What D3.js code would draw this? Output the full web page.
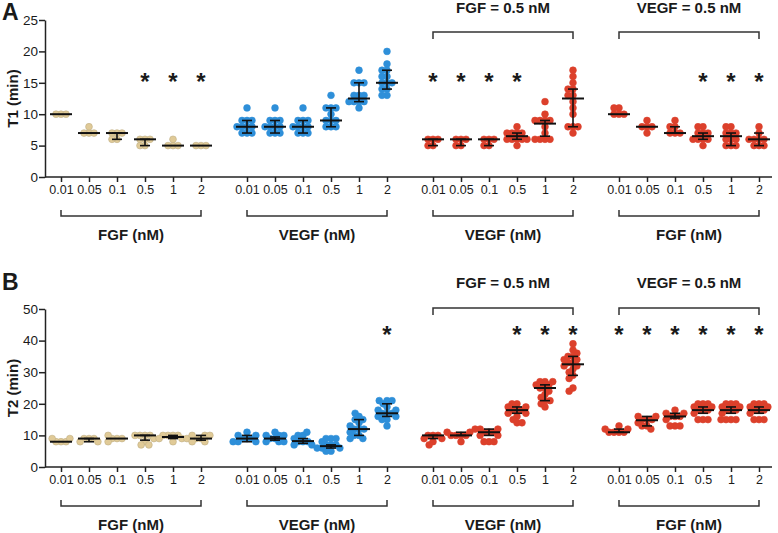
<!DOCTYPE html>
<html>
<head>
<meta charset="utf-8">
<script src="https://cdn.jsdelivr.net/npm/d3@7"></script>
<style>
  body { margin: 0; background: #fff; }
  text { font-family: "Liberation Sans", Arial, sans-serif; fill: #1a1a1a; }
</style>
</head>
<body>
<script>
// categories
var concs = ["0.01", "0.05", "0.1", "0.5", "1", "2"];
var groupLabels = ["FGF (nM)", "VEGF (nM)", "VEGF (nM)", "FGF (nM)"];
var groupKind = ["fgf", "vegf", "both", "both"];
var topLabels = [null, null, "FGF = 0.5 nM", "VEGF = 0.5 nM"];

// T1 (min) - individual points, 24 conditions (4 groups x 6 conc)
var t1Points = [
  [10, 10, 10], [7, 7, 7, 8], [7, 7, 7, 6, 6], [6, 6, 6, 5, 5], [5, 5, 5, 6], [5, 5, 5],
  [11, 9, 9, 9, 8, 8, 8, 8, 7, 7, 7], [11, 9, 9, 9, 8, 8, 8, 8, 7, 7, 7], [11, 9, 9, 9, 8, 8, 8, 8, 7, 7, 7],
  [13, 11, 11, 11, 10, 9, 9, 9, 8, 8, 8], [17, 15, 15, 15, 13, 13, 13, 12, 12, 12, 11, 12],
  [20, 18, 17, 17, 16, 16, 15, 15, 15, 14, 14, 13, 13],
  [6, 6, 6, 5, 5], [6, 6, 6, 5, 5], [6, 6, 6, 5, 5],
  [8, 7, 7, 7, 7, 6, 6, 6, 6, 6, 5], [12, 10, 9, 9, 9, 9, 8, 7, 6, 6, 6, 6],
  [17, 16, 15, 14, 14, 13, 13, 12, 11, 10, 8, 8, 8, 7],
  [11, 11, 10, 10, 10], [9, 8, 8, 8, 7], [9, 8, 8, 7, 7, 7],
  [8, 7, 7, 7, 6, 6, 6, 6, 5, 8], [8, 8, 7, 7, 6, 6, 6, 5, 5, 5, 7], [8, 7, 6, 6, 6, 6, 5, 5, 5]
];
var t1Median = [10, 7, 7, 6, 5, 5, 8, 8, 8, 9, 12.5, 15, 6, 6, 6, 6.5, 8.5, 12.5, 10, 8, 7, 6.5, 6.5, 6];
var t1Low    = [10, 7, 6, 5, 5, 5, 7, 7, 7, 8, 12, 14, 5, 5, 5, 6, 6.5, 8, 10, 8, 7, 6, 5, 5];
var t1High   = [10, 7, 7, 6, 5, 5, 9, 9, 9, 11, 15, 17, 6, 6, 6, 7, 9, 14, 10, 8, 8, 7, 7, 7];
var t1Stars = [3, 4, 5, 12, 13, 14, 15, 21, 22, 23];

// T2 (min)
var t2Points = [
  [9, 9, 8, 8, 8], [9, 9, 9, 8, 8], [10, 9, 9, 9, 8], [10, 10, 10, 10, 9, 8, 7, 7], [10, 10, 10, 10, 9, 9, 9, 8], [10, 10, 10, 9, 9, 8, 8],
  [11, 10, 10, 9, 9, 9, 8, 8, 8], [11, 10, 10, 10, 9, 9, 8, 8, 8], [11, 10, 10, 9, 8, 8, 8, 7, 7],
  [9, 9, 9, 8, 7, 7, 7, 6, 6, 6, 5, 5], [17, 16, 15, 15, 14, 13, 12, 12, 12, 11, 10, 10, 9, 9],
  [21, 21, 21, 20, 19, 18, 18, 17, 17, 17, 16, 16, 15, 15, 13],
  [10, 10, 10, 9, 9, 8, 7], [11, 11, 10, 10, 10, 10, 8], [12, 12, 12, 11, 11, 11, 10, 10, 8, 8, 8],
  [20, 20, 19, 19, 18, 18, 18, 17, 17, 16, 15, 14, 14], [27, 27, 27, 26, 26, 25, 25, 24, 23, 22, 21, 21, 20, 19],
  [39, 37, 36, 35, 35, 34, 34, 33, 33, 32, 32, 31, 30, 29, 28, 25, 24],
  [13, 12, 12, 11, 11, 11, 11], [16, 16, 15, 15, 15, 14, 13, 13, 12], [18, 17, 17, 16, 16, 16, 15, 13, 13, 13],
  [20, 20, 20, 19, 19, 18, 18, 18, 17, 15, 15, 15], [20, 20, 20, 19, 19, 18, 18, 18, 17, 15, 15, 15, 15], [20, 20, 20, 19, 19, 18, 18, 18, 17, 15, 15, 15]
];
var t2Median = [8, 9, 9, 10, 9.5, 9, 9, 9, 8.2, 6.6, 12, 17, 10, 10, 11, 18, 25, 32.5, 11, 14.8, 16, 18, 18, 18];
var t2Low    = [8, 8, 9, 8.5, 9, 8.5, 8, 8.5, 7.5, 6, 10, 16, 9, 10, 10, 17, 21, 29, 11, 13, 15.5, 17, 17, 17];
var t2High   = [8, 9, 9, 10, 10, 10, 10, 9.5, 9, 7, 15, 20, 10, 11, 12, 19, 26, 35, 12, 16, 17, 19, 19, 19];
var t2Stars = [11, 15, 16, 17, 18, 19, 20, 21, 22, 23];

var colors = { fgf: "#e0ca97", vegf: "#2e8fd9", both: "#dc402b" };
var strokes = { fgf: "#bfae84", vegf: "#2e8fd9", both: "#dc402b" };

var W = 778, H = 533;
var svg = d3.select("body").append("svg").attr("width", W).attr("height", H);

// x layout: group start + position in group
var gx = d3.scalePoint().domain([0, 1, 2, 3]).range([61, 619]);
var cx = d3.scalePoint().domain(concs).range([0, 140]);
function xPos(i) { return gx(Math.floor(i / 6)) + cx(concs[i % 6]); }

drawPanel({
  letter: "A", letterY: 20, title: "T1 (min)",
  y: d3.scaleLinear().domain([0, 25]).range([177, 20]), ticks: [0, 5, 10, 15, 20, 25],
  pts: t1Points, med: t1Median, lo: t1Low, hi: t1High, stars: t1Stars,
  topTextY: 13, topBrY: 32, starY: 77
});
drawPanel({
  letter: "B", letterY: 290, title: "T2 (min)",
  y: d3.scaleLinear().domain([0, 50]).range([467, 309]), ticks: [0, 10, 20, 30, 40, 50],
  pts: t2Points, med: t2Median, lo: t2Low, hi: t2High, stars: t2Stars,
  topTextY: 288, topBrY: 308, starY: 330
});

// beeswarm offsets: each dot takes the smallest sideways shift that clears the ones before it
function swarm(ys, D) {
  var placed = [];
  return ys.map(function(yy) {
    var blocks = [];
    placed.forEach(function(p) {
      var dy = Math.abs(p.y - yy);
      if (dy < D) {
        var w = Math.sqrt(D * D - dy * dy);
        blocks.push([p.x - w, p.x + w]);
      }
    });
    var cands = [0];
    blocks.forEach(function(b) { cands.push(b[0], b[1]); });
    cands.sort(function(a, b) { return Math.abs(a) - Math.abs(b); });
    var dx = cands.find(function(c) {
      return blocks.every(function(b) { return c <= b[0] + 1e-6 || c >= b[1] - 1e-6; });
    });
    placed.push({ x: dx, y: yy });
    return dx;
  });
}

function drawPanel(p) {
  var y = p.y;
  var y0 = y.range()[0];
  var g = svg.append("g");

  g.append("text").attr("x", 2).attr("y", p.letterY)
    .style("font-size", "23px").style("font-weight", "bold").text(p.letter);

  // y axis
  var ya = g.append("g").attr("transform", "translate(45,0)")
    .call(d3.axisLeft(y).tickValues(p.ticks).tickSize(6).tickSizeOuter(0).tickPadding(1));
  ya.selectAll("path,line").attr("stroke", "#222").attr("stroke-width", 1.5);
  ya.selectAll("text").style("font-size", "13.5px").style("font-family", "Liberation Sans, Arial").attr("fill", "#1a1a1a");

  var mid = (y.range()[0] + y.range()[1]) / 2;
  g.append("text").attr("transform", "translate(18," + mid + ") rotate(-90)")
    .attr("text-anchor", "middle").style("font-size", "15px").style("font-weight", "bold").text(p.title);

  // x axis line
  g.append("line").attr("x1", 45).attr("x2", 772).attr("y1", y0).attr("y2", y0)
    .attr("stroke", "#222").attr("stroke-width", 1.5);

  for (var k = 0; k < 4; k++) {
    var xa = g.append("g").attr("transform", "translate(" + gx(k) + "," + y0 + ")")
      .call(d3.axisBottom(cx).tickSize(5).tickSizeOuter(0).tickPadding(3));
    xa.select(".domain").remove();
    xa.selectAll("line").attr("stroke", "#222").attr("stroke-width", 1.5);
    xa.selectAll("text").style("font-size", "12.5px").style("font-family", "Liberation Sans, Arial").attr("fill", "#1a1a1a");

    var x1 = gx(k), x2 = gx(k) + 140;
    // bottom bracket
    var by = y0 + 39;
    g.append("path").attr("d", "M" + x1 + "," + (by - 6) + "V" + by + "H" + x2 + "V" + (by - 6))
      .attr("fill", "none").attr("stroke", "#333").attr("stroke-width", 1.5);
    g.append("text").attr("x", (x1 + x2) / 2).attr("y", by + 24).attr("text-anchor", "middle")
      .style("font-size", "15px").style("font-weight", "bold").text(groupLabels[k]);

    if (topLabels[k]) {
      g.append("path").attr("d", "M" + x1 + "," + (p.topBrY + 7) + "V" + p.topBrY + "H" + x2 + "V" + (p.topBrY + 7))
        .attr("fill", "none").attr("stroke", "#333").attr("stroke-width", 1.5);
      g.append("text").attr("x", (x1 + x2) / 2).attr("y", p.topTextY).attr("text-anchor", "middle")
        .style("font-size", "15px").style("font-weight", "bold").text(topLabels[k]);
    }
  }

  // dots
  p.pts.forEach(function(vals, i) {
    var kind = groupKind[Math.floor(i / 6)];
    var sorted = vals.slice().sort(function(a, b) {
      return Math.abs(a - p.med[i]) - Math.abs(b - p.med[i]);
    });
    var offs = swarm(sorted.map(function(v) { return y(v); }), 5);
    g.append("g").selectAll("circle").data(sorted).join("circle")
      .attr("cx", function(d, j) { return xPos(i) + offs[j]; })
      .attr("cy", function(d) { return y(d); })
      .attr("r", 3.4)
      .attr("fill", colors[kind])
      .attr("stroke", strokes[kind]).attr("stroke-width", 0.6);
  });

  // median with interquartile range
  var eb = g.append("g").attr("stroke", "#111").attr("stroke-width", 1.6);
  p.med.forEach(function(m, i) {
    var xc = xPos(i);
    eb.append("line").attr("x1", xc - 11).attr("x2", xc + 11).attr("y1", y(m)).attr("y2", y(m)).attr("stroke-width", 2);
    if (p.hi[i] > p.lo[i]) {
      eb.append("line").attr("x1", xc).attr("x2", xc).attr("y1", y(p.lo[i])).attr("y2", y(p.hi[i]));
      eb.append("line").attr("x1", xc - 5).attr("x2", xc + 5).attr("y1", y(p.lo[i])).attr("y2", y(p.lo[i]));
      eb.append("line").attr("x1", xc - 5).attr("x2", xc + 5).attr("y1", y(p.hi[i])).attr("y2", y(p.hi[i]));
    }
  });

  // significance stars
  g.selectAll(".star").data(p.stars).join("text")
    .attr("x", function(i) { return xPos(i); })
    .attr("y", p.starY + 13)
    .attr("text-anchor", "middle")
    .style("font-size", "24px")
    .style("font-weight", "bold")
    .text("*");
}
</script>
</body>
</html>
